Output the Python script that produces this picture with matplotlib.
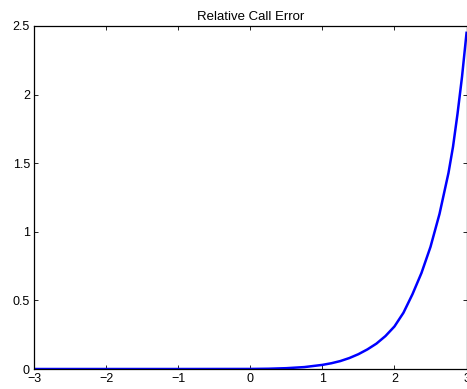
import matplotlib
matplotlib.use("Agg")
import matplotlib.pyplot as plt

# values
x_vals = [-3.0, -2.0, -1.0, 0.0, 0.25, 0.5, 0.75, 1.0, 1.125, 1.25, 1.375, 1.5, 1.625,
          1.75, 1.875, 2.0, 2.125, 2.25, 2.375, 2.5, 2.625, 2.75, 2.8125, 2.875, 2.9375, 3.0]
err_vals = [0.0, 0.0, 0.0, 0.0005, 0.002, 0.006, 0.014, 0.03, 0.042, 0.058, 0.08, 0.108, 0.143,
            0.185, 0.24, 0.31, 0.41, 0.545, 0.70, 0.89, 1.13, 1.43, 1.62, 1.86, 2.13, 2.45]

x_ticks = [-3, -2, -1, 0, 1, 2, 3]
y_ticks = [0, 0.5, 1, 1.5, 2, 2.5]

plt.rcParams['font.family'] = ['Liberation Sans', 'DejaVu Sans']
plt.rcParams['font.size'] = 9

fig = plt.figure(figsize=(4.67, 3.89), dpi=100)
ax = fig.add_axes([0.0728, 0.0514, 0.9262, 0.8818])
ax.plot(x_vals, err_vals, color='blue', linewidth=1.8, solid_joinstyle='round')
ax.set_xlim(-3, 3)
ax.set_ylim(0, 2.5)
ax.set_xticks(x_ticks)
ax.set_yticks(y_ticks)
ax.set_xticklabels([str(t).replace('-', '\u2212') for t in x_ticks])
ax.set_yticklabels(['0', '0.5', '1', '1.5', '2', '2.5'])
ax.tick_params(direction='in', top=True, right=True, length=3, width=0.6, pad=3)
for s in ax.spines.values():
    s.set_linewidth(0.9)
ax.set_title("Relative Call Error", fontsize=9.5, pad=4)

fig.savefig("out.png", dpi=100)
